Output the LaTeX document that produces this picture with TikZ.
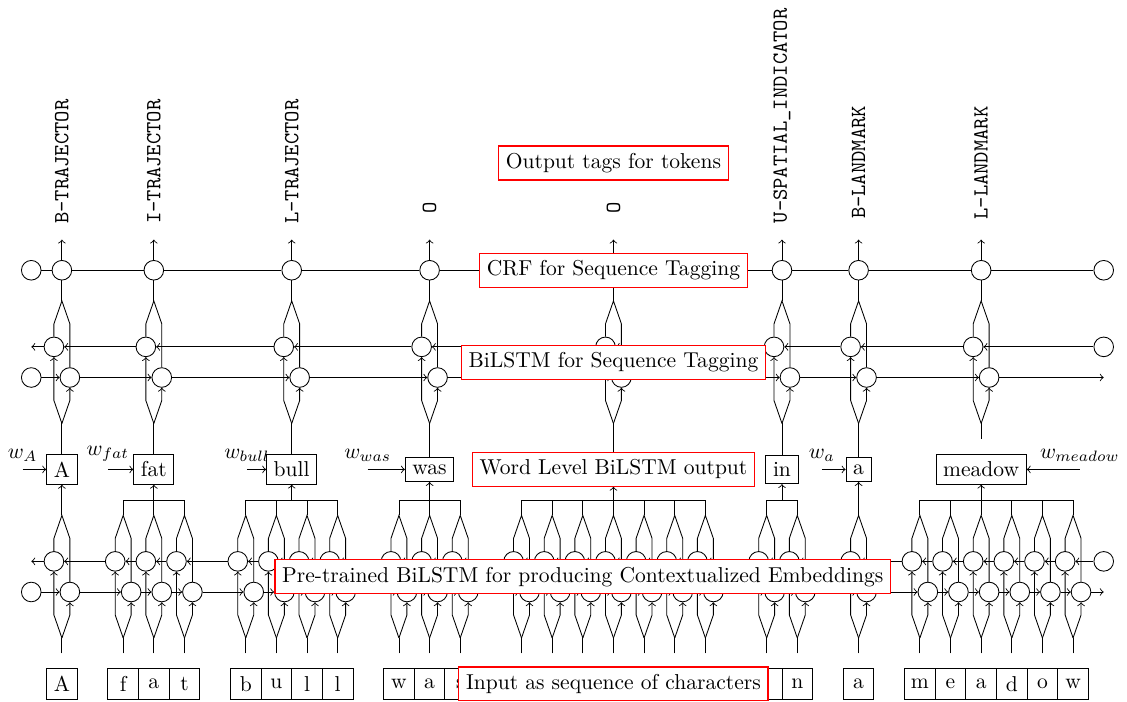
\documentclass[tikz,border=0pt]{standalone}

\newcommand{\lstmcell}[3]{%
  \node[lstm] (#1f) at (#2+0.13,#3) {};
  \node[lstm] (#1b) at (#2-0.13,#3+0.5) {};
  \coordinate (#1s) at (#2,#3-0.75);
  \coordinate (#1m) at (#2,#3+1.25);
  \draw[->] (#1s) -- ++(-0.13,0.375) -- (#1b);
  \draw[->] (#1s) -- ++(0.13,0.375) -- (#1f);
  \draw (#1b) -- ++(0,0.375) -- (#1m) -- ++(0.13,-0.375) -- (#1f);
}

\begin{document}
\begin{tikzpicture}[
    lstm/.style={draw, circle, minimum size=0.32cm, inner sep=0pt},
    charbox/.style={draw, rectangle, minimum size=0.5cm, inner sep=0pt},
    wordbox/.style={draw, rectangle},
    tagtext/.style={rotate=90, anchor=west, inner ysep=0pt, font=\ttfamily},
    layerlabel/.style={draw=red, fill=white, line width=0.55pt}]
    \useasboundingbox (-1.01,-0.29) rectangle (17.38,11.16);

    % characters and char level BiLSTM
    \foreach \i/\c [evaluate=\i as \x using \i/2] in {0/A,2/f,3/a,4/t,6/b,7/u,8/l,9/l,11/w,12/a,13/s,15/{},16/{},17/{},18/{},19/{},20/{},21/{},23/i,24/n,26/a,28/m,29/e,30/a,31/d,32/o,33/w}{
        \node[charbox] (ch\i) at (\x,0) {\c};
        \coordinate (c\i e) at (\x,0.5);
        \coordinate (c\i t) at (\x,3);
        \lstmcell{c\i}{\x}{1.5}
        \draw (c\i e) -- (c\i s);
        \draw (c\i m) -- (c\i t);
    }
    \node[lstm] (cLf) at (-0.5,1.5) {};
    \coordinate (cLb) at (-0.5,2);
    \node[lstm] (cRb) at (17,2) {};
    \coordinate (cRf) at (17,1.5);
    \foreach \i [remember=\i as \j (initially L)] in {0,2,3,4,6,7,8,9,11,12,13,15,16,17,18,19,20,21,23,24,26,28,29,30,31,32,33}{
        \draw[->] (c\j f) -- (c\i f);
        \draw[->] (c\i b) -- (c\j b);
    }
    \draw[->] (c33f) -- (cRf);
    \draw[->] (cRb) -- (c33b);

    % words
    \node[wordbox] (wA) at (0,3.5) {A};
    \node[wordbox] (wfat) at (1.5,3.5) {fat};
    \node[wordbox] (wbull) at (3.75,3.5) {bull};
    \node[wordbox] (wwas) at (6,3.5) {was};
    \node[wordbox, minimum width=1.3cm, minimum height=0.55cm] (wmid) at (9,3.5) {};
    \node[wordbox] (win) at (11.75,3.5) {in};
    \node[wordbox] (wa) at (13,3.5) {a};
    \node[wordbox] (wmeadow) at (15,3.5) {meadow};

    \draw[->] (c0m) -- (wA);
    \draw (c2t) -- (c4t);   \draw[->] (wfat |- c2t) -- (wfat);
    \draw (c6t) -- (c9t);   \draw[->] (wbull |- c6t) -- (wbull);
    \draw (c11t) -- (c13t); \draw[->] (wwas |- c11t) -- (wwas);
    \draw (c15t) -- (c21t); \draw[->] (wmid |- c15t) -- (wmid);
    \draw (c23t) -- (c24t); \draw[->] (win |- c23t) -- (win);
    \draw[->] (c26m) -- (wa);
    \draw (c28t) -- (c33t); \draw[->] (wmeadow |- c28t) -- (wmeadow);

    % word embeddings
    \coordinate (inA) at (-0.64,3.5);
    \coordinate (infat) at (0.75,3.5);
    \coordinate (inbull) at (3.02,3.5);
    \coordinate (inwas) at (4.99,3.5);
    \coordinate (ina) at (12.4,3.5);
    \coordinate (inmeadow) at (16.61,3.5);
    \draw[->] (inA) node[above] {$w_{A}$} -- (wA);
    \draw[->] (infat) node[above] {$w_{fat}$} -- (wfat);
    \draw[->] (inbull) node[above] {$w_{bull}$} -- (wbull);
    \draw[->] (inwas) node[above] {$w_{was}$} -- (wwas);
    \draw[->] (ina) node[above] {$w_{a}$} -- (wa);
    \draw[->] (inmeadow) node[above] {$w_{meadow}$} -- (wmeadow);

    % token level BiLSTM and CRF
    \foreach \k/\x in {A/0,fat/1.5,bull/3.75,was/6,mid/9,in/11.75,a/13,meadow/15}{
        \lstmcell{t\k}{\x}{5}
        \node[lstm] (crf\k) at (\x,6.75) {};
        \draw (t\k m) -- (crf\k);
    }
    \foreach \k in {A,fat,bull,was,mid,in,a}
        \draw (w\k) -- (t\k s);
    \coordinate (tmeadowe) at (15,4);
    \draw (tmeadows) -- (tmeadowe);

    \node[lstm] (tLf) at (-0.5,5) {};
    \coordinate (tLb) at (-0.5,5.5);
    \node[lstm] (tRb) at (17,5.5) {};
    \coordinate (tRf) at (17,5);
    \node[lstm] (crfL) at (-0.5,6.75) {};
    \node[lstm] (crfR) at (17,6.75) {};
    \foreach \k [remember=\k as \j (initially L)] in {A,fat,bull,was,mid,in,a,meadow}{
        \draw[->] (t\j f) -- (t\k f);
        \draw[->] (t\k b) -- (t\j b);
        \draw (crf\j) -- (crf\k);
    }
    \draw[->] (tmeadowf) -- (tRf);
    \draw[->] (tRb) -- (tmeadowb);
    \draw (crfmeadow) -- (crfR);

    % output tags
    \foreach \k/\x/\d/\t in {A/0/0.25/B-TRAJECTOR, fat/1.5/0.25/I-TRAJECTOR, bull/3.75/0.25/L-TRAJECTOR, was/6/0.42/O, mid/9/0.42/O, in/11.75/0.26/U-SPATIAL\_INDICATOR, a/13/0.33/B-LANDMARK, meadow/15/0.32/L-LANDMARK}{
        \node[tagtext, inner xsep=\d cm] (tag\k) at (\x,7.25) {\t};
        \draw[->] (crf\k) -- (tag\k);
    }

    % layer labels
    \node[layerlabel] (lout) at (9,8.5) {Output tags for tokens};
    \node[layerlabel] (lcrf) at (9,6.75) {CRF for Sequence Tagging};
    \node[layerlabel] (ltag) at (9,5.25) {BiLSTM for Sequence Tagging};
    \node[layerlabel] (lword) at (9,3.5) {Word Level BiLSTM output};
    \node[layerlabel] (lpre) at (8.5,1.75) {Pre-trained BiLSTM for producing Contextualized Embeddings};
    \node[layerlabel] (lin) at (9,0) {Input as sequence of characters};
\end{tikzpicture}
\end{document}
